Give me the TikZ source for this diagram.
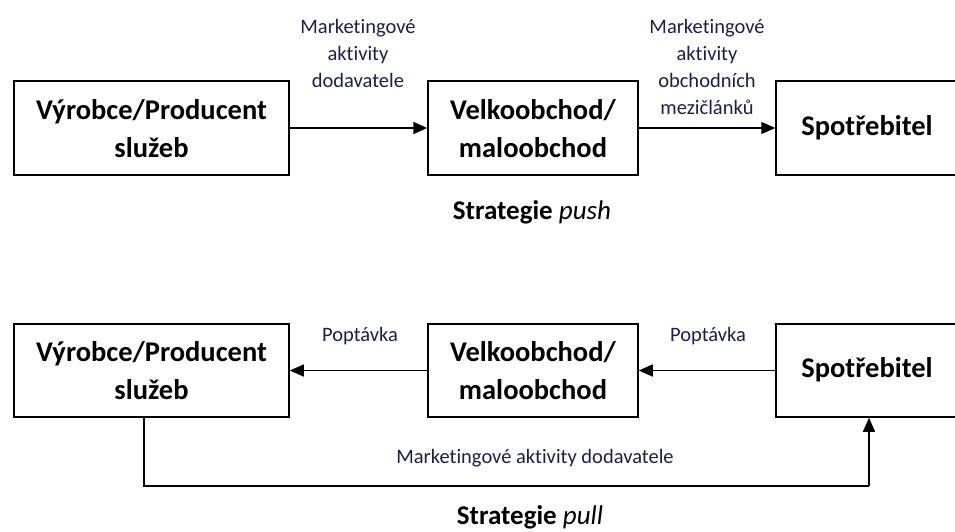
\documentclass[tikz,border=0pt]{standalone}
\usepackage{fontspec}
\setmainfont{Carlito}[RawFeature={-liga}]
\usetikzlibrary{arrows.meta}
\definecolor{lbl}{HTML}{1E1E46}
\begin{document}
\begin{tikzpicture}[x=1pt,y=-1pt,
  box/.style={draw,line width=1.5pt,inner sep=0pt},
  boxtxt/.style={font=\fontsize{28.5}{38}\selectfont\bfseries,align=center},
  lab/.style={font=\fontsize{20.5}{27}\selectfont,text=lbl,align=center},
  strat/.style={font=\fontsize{27}{30}\selectfont\bfseries},
  arr/.style={line width=1.5pt,-{Triangle[length=14pt,width=12pt]}},
  ln/.style={line width=1.5pt}]
\useasboundingbox (0,0) rectangle (955,531);
% top row
\node[box,minimum width=275pt,minimum height=94pt] (a1) at (151.5,128) {};
\node[box,minimum width=210pt,minimum height=94pt] (b1) at (533,128) {};
\node[box,minimum width=180pt,minimum height=94pt] (c1) at (866,128) {};
\node[boxtxt] (a1t) at (151.5,129) {Výrobce/Producent\\služeb};
\node[boxtxt] (b1t) at (533,129) {Velkoobchod/\\maloobchod};
\node[boxtxt] (c1t) at (867,128) {Spotřebitel};
\draw[arr] (a1.east) -- (b1.west);
\draw[arr] (b1.east) -- (c1.west);
\node[lab] (l1) at (358,53) {Marketingové\\aktivity\\dodavatele};
\node[lab] (l2) at (707,67) {Marketingové\\aktivity\\obchodních\\mezičlánků};
\node[strat] (s1) at (532,212) {Strategie \normalfont\itshape push};
% bottom row
\node[box,minimum width=275pt,minimum height=93pt] (a2) at (151.5,370.5) {};
\node[box,minimum width=210pt,minimum height=93pt] (b2) at (533,370.5) {};
\node[box,minimum width=180pt,minimum height=93pt] (c2) at (866,370.5) {};
\node[boxtxt] (a2t) at (151.5,371) {Výrobce/Producent\\služeb};
\node[boxtxt] (b2t) at (533,371) {Velkoobchod/\\maloobchod};
\node[boxtxt] (c2t) at (867,370) {Spotřebitel};
\draw[arr] (b2.west) -- (a2.east);
\draw[arr] (c2.west) -- (b2.east);
\node[lab] (p1) at (360,336) {Poptávka};
\node[lab] (p2) at (708,336) {Poptávka};
\coordinate (k1) at (144,486);
\coordinate (k2) at (869,486);
\draw[ln] (a2.south -| k1) -- (k1) -- (k2);
\draw[arr] (k2) -- (c2.south -| k2);
\node[lab] (m) at (535,458) {Marketingové aktivity dodavatele};
\node[strat] (s2) at (530,517) {Strategie \normalfont\itshape pull};
\end{tikzpicture}
\end{document}
